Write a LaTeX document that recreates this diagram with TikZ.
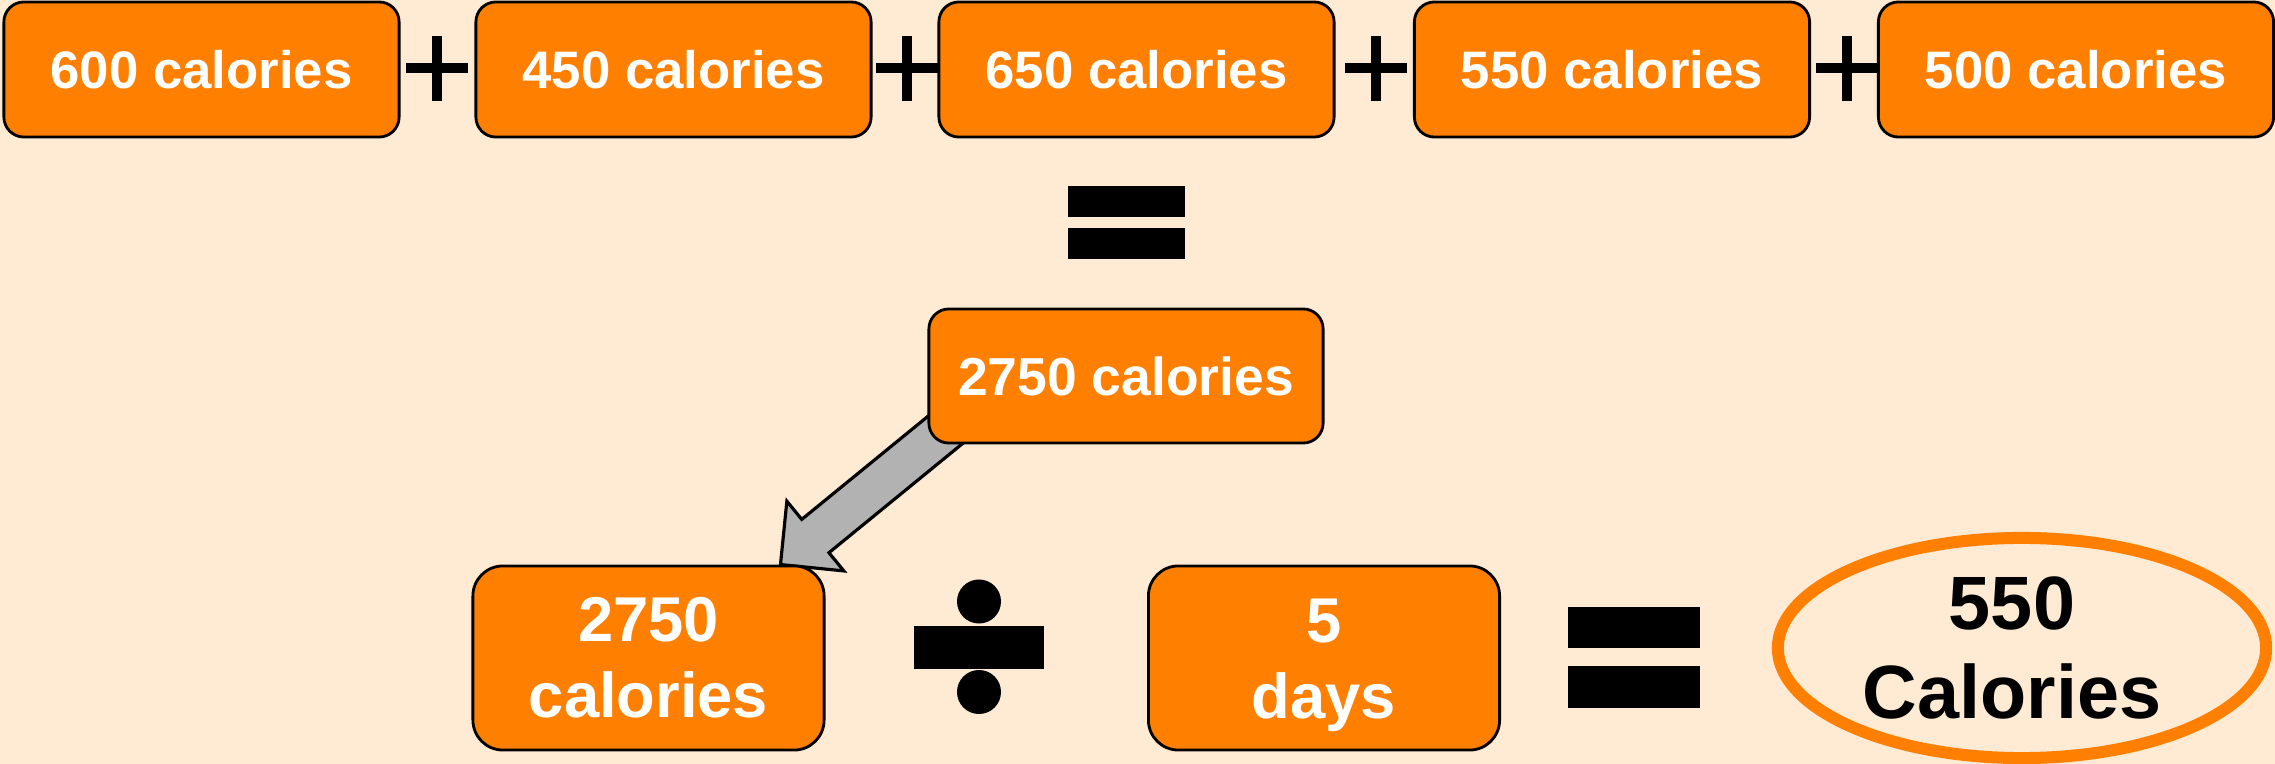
\documentclass[tikz,border=0pt]{standalone}
\usepackage{fontspec}
\setmainfont{Liberation Sans}
\usetikzlibrary{calc,shapes.geometric}

\definecolor{cream}{HTML}{FFEBD4}
\definecolor{calorange}{HTML}{FF7F00}
\definecolor{arrowgray}{HTML}{B2B2B2}
\pgfdeclarelayer{paper}
\pgfdeclarelayer{under}
\pgfsetlayers{paper,under,main}

\begin{document}
\begin{tikzpicture}[x=0.01cm, y=-0.01cm,
    calbox/.style={draw, line width=0.8pt, fill=calorange, text=white, rounded corners=0.2cm,
                   minimum width=3.95cm, minimum height=1.35cm, inner sep=0pt,
                   font=\fontsize{15}{18}\selectfont\bfseries},
    bigbox/.style={calbox, rounded corners=0.3cm, minimum width=3.51cm, minimum height=1.84cm,
                   align=center, font=\fontsize{18}{21.6}\selectfont\bfseries},
    answer/.style={ellipse, draw=calorange, line width=0.12cm, minimum width=4.88cm,
                   minimum height=2.2cm, inner sep=0pt, align=center,
                   font=\fontsize{21.5}{25.3}\selectfont\bfseries},
    opbar/.style={fill=black},
    bigarrow/.style={fill=arrowgray, draw=black, line width=0.9pt, line join=miter}]

    \useasboundingbox (0,0) rectangle (2275,764);
    \begin{pgfonlayer}{paper}
        \fill[cream] (0,0) rectangle (2275,764);
    \end{pgfonlayer}

    % daily intake
    \node[calbox] (day1) at (201.5,69.5) {600 calories};
    \node[calbox] (day2) at (673.5,69.5) {450 calories};
    \node[calbox] (day3) at (1136.5,69.5) {650 calories};
    \node[calbox] (day4) at (1612,69.5) {550 calories};
    \node[calbox] (day5) at (2076,69.5) {500 calories};

    \foreach \px in {437,907,1376,1847} {
        \fill[opbar] (\px-31,63) rectangle (\px+31,73);
        \fill[opbar] (\px-5,36) rectangle (\px+5,101);
    }
    \fill[opbar] (1068,186) rectangle (1185,217);
    \fill[opbar] (1068,228) rectangle (1185,259);

    \node[calbox, minimum width=3.94cm, minimum height=1.34cm,
          font=\fontsize{15.2}{18}\selectfont\bfseries] (total) at (1126,376) {2750 calories};

    % division
    \node[bigbox] (sum)  at (648.5,658) {2750\\calories};
    \node[bigbox] (days) at (1324,658)  {\rule{0pt}{0.58cm}5\\days};
    \fill[opbar] (914,626) rectangle (1044,669);
    \fill[opbar] (979,601.5) circle[radius=0.22cm];
    \fill[opbar] (979,692) circle[radius=0.22cm];
    \fill[opbar] (1568,607) rectangle (1700,648);
    \fill[opbar] (1568,666) rectangle (1700,708);

    \node[answer] (result) at (2022,648) {550\hspace*{0.2cm}\\Calories\hspace*{0.2cm}};

    % arrow from the total down to the sum
    \coordinate (tip) at ($(sum.north east)+(-0.45cm,0)$);
    \coordinate (aim) at (total.south west);
    \path ($(tip)!0.45cm!(aim)$) coordinate (neck)
          ($(tip)!1.3!(aim)$)    coordinate (tail);
    \begin{pgfonlayer}{under}
        \filldraw[bigarrow] (tip) -- ($(neck)!0.45cm!90:(aim)$) -- ($(neck)!0.215cm!90:(aim)$)
            -- ($(tail)!0.215cm!-90:(tip)$) -- ($(tail)!0.215cm!90:(tip)$)
            -- ($(neck)!0.215cm!-90:(aim)$) -- ($(neck)!0.45cm!-90:(aim)$) -- cycle;
    \end{pgfonlayer}
\end{tikzpicture}
\end{document}
